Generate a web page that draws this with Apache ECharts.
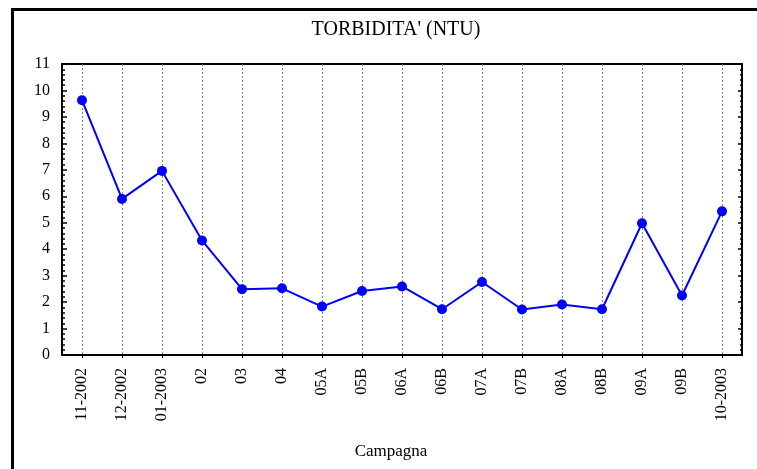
<!DOCTYPE html>
<html>
<head>
<meta charset="utf-8">
<script src="https://cdn.jsdelivr.net/npm/echarts@6/dist/echarts.min.js"></script>
<style>
  html, body { margin: 0; padding: 0; background: #fff; }
  #chart { width: 757px; height: 469px; }
</style>
</head>
<body>
<div id="chart"></div>
<script>
// campagne di misura
var campagne = ['11-2002', '12-2002', '01-2003', '02', '03', '04', '05A', '05B', '06A', '06B',
  '07A', '07B', '08A', '08B', '09A', '09B', '10-2003'];
// torbidita' (NTU)
var torbidita = [9.63, 5.90, 6.96, 4.33, 2.49, 2.52, 1.83, 2.42, 2.59, 1.73,
  2.76, 1.72, 1.91, 1.73, 4.98, 2.25, 5.43];
var titolo = "TORBIDITA' (NTU)";
var nomeAsseX = 'Campagna';

var font = 'Liberation Serif, Times New Roman, serif';
var chart = echarts.init(document.getElementById('chart'));

var option = {
  animation: false,
  backgroundColor: '#fff',
  graphic: [
    {
      type: 'rect',
      shape: { x: 12.5, y: 9.5, width: 800, height: 500 },
      style: { fill: 'none', stroke: '#000', lineWidth: 3 },
      silent: true
    },
    {
      type: 'text',
      x: 396, y: 30,
      style: { text: titolo, font: '20px ' + font, fill: '#000', textAlign: 'center', textVerticalAlign: 'middle' }
    },
    {
      type: 'text',
      x: 391, y: 452,
      style: { text: nomeAsseX, font: '17px ' + font, fill: '#000', textAlign: 'center', textVerticalAlign: 'middle' }
    }
  ],
  grid: {
    left: 62, top: 64, right: 15, bottom: 114,
    show: true, borderColor: '#000', borderWidth: 2
  },
  xAxis: {
    type: 'category',
    data: campagne,
    boundaryGap: true,
    axisLine: { lineStyle: { color: '#000', width: 2 } },
    axisTick: { show: true, alignWithLabel: true, length: 3, lineStyle: { color: '#000' } },
    axisLabel: { rotate: 90, margin: 13, color: '#000', fontFamily: font, fontSize: 16, interval: 0 },
    splitLine: { show: true, alignWithLabel: true, lineStyle: { color: '#808080', type: [2, 2], width: 1 } }
  },
  yAxis: [
    {
      type: 'value',
      min: 0, max: 11, interval: 1,
      axisLine: { show: true, lineStyle: { color: '#000', width: 2 } },
      axisTick: { show: true, inside: true, length: 5, lineStyle: { color: '#000', width: 1.5 } },
      minorTick: { show: true, splitNumber: 5, length: 3, lineStyle: { color: '#000', width: 1.5 } },
      axisLabel: { margin: 12, color: '#000', fontFamily: font, fontSize: 16 },
      splitLine: { show: false }
    },
    {
      type: 'value',
      position: 'right',
      min: 0, max: 11, interval: 1,
      axisLine: { show: true, lineStyle: { color: '#000', width: 2 } },
      axisTick: { show: true, inside: true, length: 4, lineStyle: { color: '#000', width: 1.5 } },
      minorTick: { show: true, splitNumber: 5, length: 2, lineStyle: { color: '#000', width: 1.5 } },
      axisLabel: { show: false },
      splitLine: { show: false }
    }
  ],
  series: [
    {
      type: 'line',
      data: torbidita,
      yAxisIndex: 0,
      symbol: 'circle',
      symbolSize: 10,
      lineStyle: { color: '#0000ff', width: 2 },
      itemStyle: { color: '#0000ff' }
    }
  ]
};
chart.setOption(option);
</script>
</body>
</html>
